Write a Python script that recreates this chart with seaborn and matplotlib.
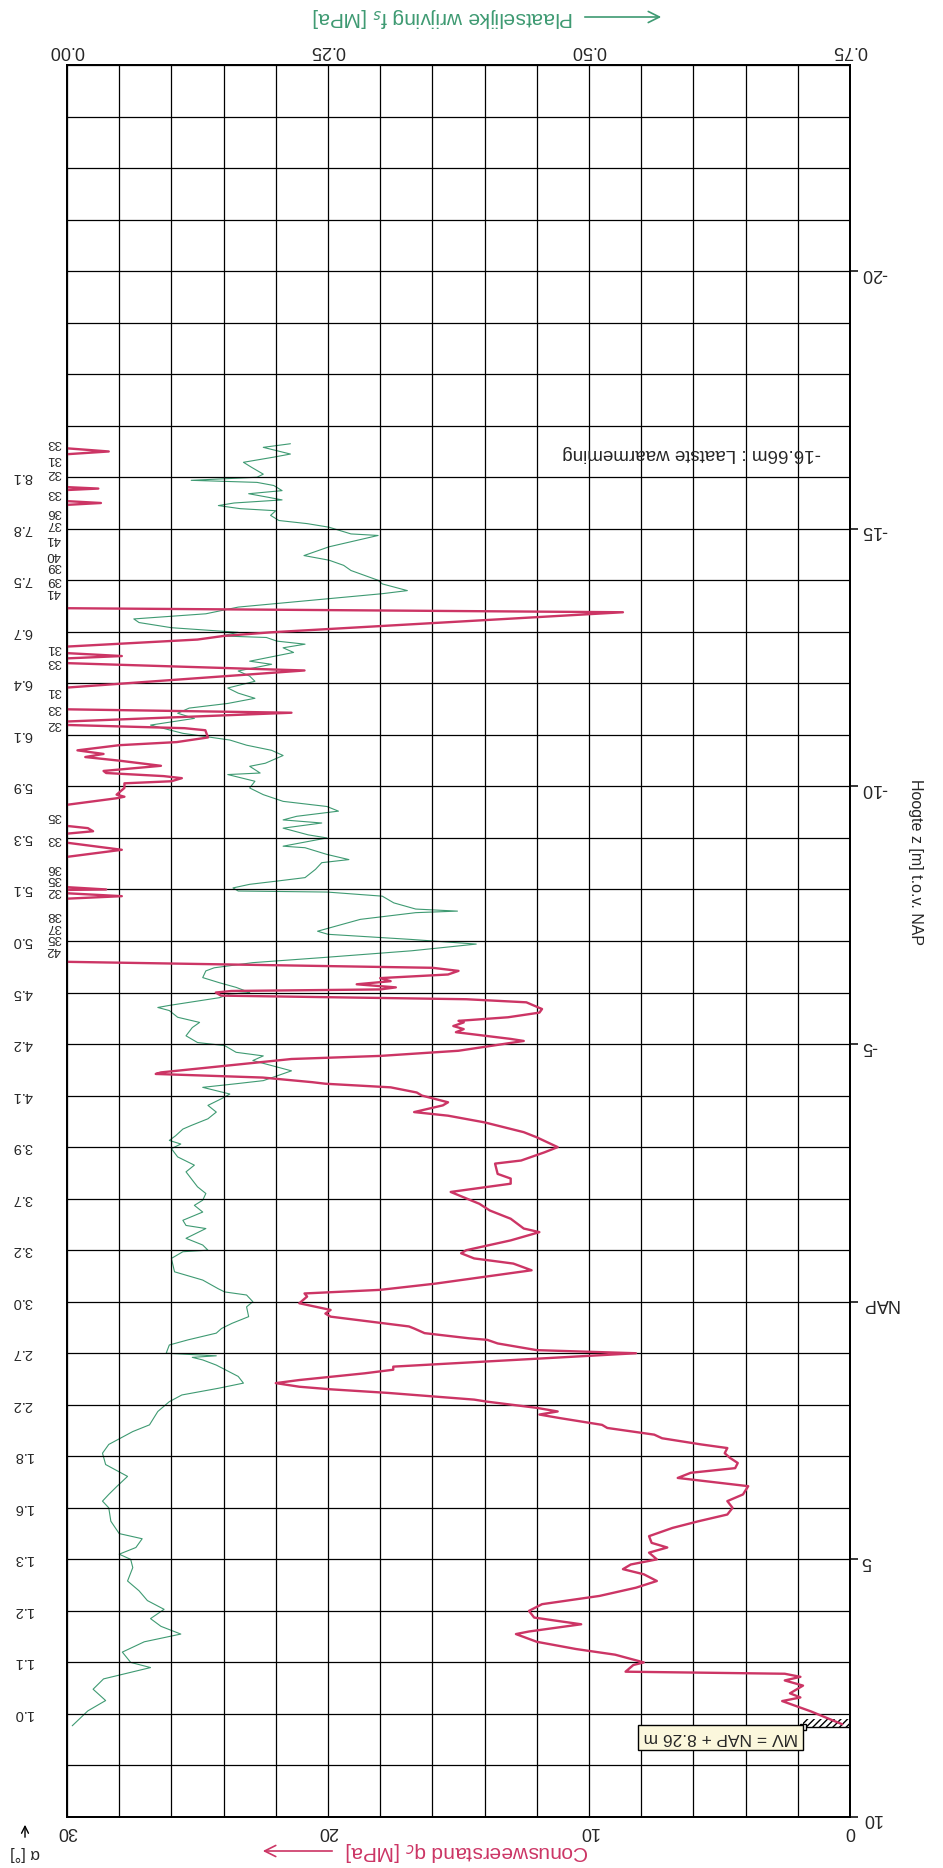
import matplotlib
matplotlib.use("Agg")
import matplotlib.pyplot as plt
import matplotlib.transforms as mtransforms
from matplotlib.patches import Rectangle, FancyArrowPatch
import seaborn as sns
import numpy as np
import pandas as pd

sns.set_style("white")
plt.rcParams["font.family"] = ["Liberation Sans", "DejaVu Sans"]

qc_z = [8.2, 7.95, 7.75, 7.68, 7.6, 7.45, 7.35, 7.28, 7.22, 7.18, 7.05, 7.0, 6.85, 6.74,
        6.6, 6.45, 6.4, 6.26, 6.13, 6.0, 5.87, 5.71, 5.55, 5.42, 5.29, 5.19, 5.1, 5.0, 4.87,
        4.77, 4.68, 4.55, 4.39, 4.26, 4.13, 4.0, 3.87, 3.74, 3.58,
        3.42, 3.32, 3.23, 3.13, 3.03, 2.94, 2.84, 2.77, 2.65, 2.58, 2.45, 2.39, 2.26, 2.19,
        2.13, 2.06, 1.94, 1.9, 1.77, 1.7, 1.65, 1.58, 1.52, 1.39, 1.32, 1.26, 1.1, 1.0, 0.94,
        0.81, 0.74, 0.71, 0.61, 0.52, 0.48, 0.29, 0.23, 0.16, 0.03,
        -0.1, -0.16, -0.23, -0.35, -0.61, -0.74, -0.84, -0.94, -1.0, -1.19, -1.35, -1.42,
        -1.61, -1.77, -1.9, -2.13, -2.29, -2.39, -2.48, -2.68, -2.74, -2.9, -3.0, -3.19, -3.29,
        -3.48, -3.61, -3.68, -3.81, -3.87, -4.0, -4.06, -4.16, -4.23, -4.26,
        -4.35, -4.42, -4.45, -4.71, -4.77, -4.87, -5.06, -5.1, -5.23, -5.29,
        -5.35, -5.42, -5.45, -5.52, -5.61, -5.68, -5.81, -5.87, -5.94, -6.0,
        -6.03, -6.06, -6.1, -6.16, -6.22, -6.28, -6.35, -6.42, -6.48, -6.6,
        -7.81, -7.87, -7.94, -8.0, -8.06, -8.6, -8.77, -8.94, -9.06, -9.13,
        -9.19, -9.26, -9.61, -9.77, -9.8, -9.84, -9.97, -10.06, -10.1, -10.16,
        -10.2, -10.26, -10.3, -10.4, -10.5, -10.57, -10.63, -10.7, -10.8, -10.86,
        -10.95, -11.09, -11.13, -11.25, -11.43, -11.5, -11.9, -12.25, -12.4, -12.53,
        -12.6, -12.7, -12.85, -12.92, -12.99, -13.38, -13.46,
        -15.45, -15.5, -15.55, -15.74, -15.78, -15.82, -16.43, -16.5, -16.58]
qc_val = [0.3, 1.5, 2.6, 1.9, 2.3, 1.8, 2.5, 1.9, 2.5, 8.6, 8.3, 7.9, 9.0, 10.5,
          12.0, 12.8, 12.3, 10.3, 12.1, 12.3, 11.8, 9.6, 8.2, 7.4, 7.9, 8.7, 8.4, 7.4, 7.7,
          7.0, 7.6, 7.7, 6.8, 5.8, 4.7, 4.5, 4.7, 4.1, 3.9,
          6.6, 6.1, 4.4, 4.3, 4.6, 4.8, 4.7, 5.7, 7.2, 7.5, 9.3, 9.5, 11.1, 11.9,
          11.2, 12.0, 13.9, 14.4, 17.7, 19.9, 21.1, 22.0, 21.1, 18.6, 17.5, 17.5, 11.8, 8.2, 12.0,
          13.5, 13.9, 14.6, 16.3, 16.7, 16.9, 19.9, 20.1, 19.9, 21.1,
          20.8, 20.9, 18.0, 15.9, 12.2, 12.9, 14.4, 14.9, 14.7, 13.0, 11.9, 12.5,
          13.0, 13.8, 14.2, 15.3, 13.0, 13.0, 13.5, 13.6, 12.6, 11.7, 11.2, 12.0, 12.5,
          14.0, 15.4, 16.7, 15.6, 15.4, 16.4, 16.6, 17.6, 20.1, 20.6,
          22.5, 26.6, 26.4, 21.4, 18.0, 15.0, 12.5, 13.0, 15.1, 14.8,
          15.2, 14.8, 15.0, 13.1, 11.9, 11.8, 12.4, 14.7, 24.1, 24.3,
          23.7, 18.0, 17.4, 18.9, 17.6, 18.0, 15.4, 15.0, 16.0, 30.5,
          30.5, 27.9, 30.5, 28.5, 30.5, 30.5, 27.9, 30.5, 30.5, 29.0,
          29.2, 30.5, 30.5, 28.1, 27.8, 28.1, 27.8, 27.8, 26.0, 25.6,
          26.3, 28.5, 28.6, 26.4, 28.0, 29.3, 28.6, 29.6, 28.0, 25.8,
          24.6, 24.7, 25.5, 30.5, 21.4, 30.5, 30.5, 20.9, 30.5, 27.9,
          30.5, 30.5, 25.0, 24.0, 22.2, 8.7, 30.5,
          30.5, 28.7, 30.5, 30.5, 28.8, 30.5, 30.5, 28.4, 30.5]

# qc peaks beyond the 30 MPa scale (written in the margin)
over_z = [-6.82, -7.06, -7.28, -7.5, -7.98, -8.2, -8.42, -8.97, -9.42, -11.22, -11.53,
          -11.86, -12.42, -12.68, -13.77, -14.0, -14.27, -14.5, -14.8, -15.09, -15.32,
          -15.7, -16.08, -16.36, -16.66]
over_qc = [42, 35, 37, 38, 32, 35, 36, 33, 35, 32, 33, 31, 33, 31, 41, 39, 39, 40, 41,
           37, 36, 33, 32, 31, 33]

# Sleeve friction fs [MPa]
fs_z = [8.23, 7.94, 7.74, 7.52, 7.32, 7.1, 7.0, 6.8,
        6.6, 6.45, 6.3, 6.15, 5.97, 5.8, 5.61, 5.42, 5.16, 5.0,
        4.9, 4.77, 4.6, 4.5, 4.26, 4.0, 3.87, 3.74, 3.58,
        3.39, 3.16, 2.94, 2.77, 2.52, 2.39, 2.13, 1.94, 1.81, 1.68,
        1.58, 1.45, 1.23, 1.13, 1.08, 1.05, 1.0, 0.84, 0.74, 0.61,
        0.52, 0.42, 0.29, 0.1,
        0.0, -0.13, -0.19, -0.25, -0.42, -0.58, -0.84, -0.97, -1.0, -1.1,
        -1.23, -1.42, -1.48, -1.58, -1.74, -1.87, -1.97, -2.1, -2.23, -2.39,
        -2.52, -2.65, -2.81, -2.97, -3.06, -3.13, -3.22, -3.35, -3.42,
        -3.55, -3.68, -3.81, -3.94, -4.03, -4.16, -4.23, -4.29, -4.48, -4.68,
        -4.77, -4.84, -4.97, -5.03, -5.16, -5.32, -5.42, -5.52, -5.65, -5.71,
        -5.75, -5.9, -5.97, -6.0, -6.1, -6.19, -6.29, -6.42, -6.48, -6.58,
        -6.68, -6.81, -6.94,
        -7.03, -7.13, -7.19, -7.42, -7.55, -7.58, -7.62, -7.74, -7.87, -7.95,
        -7.97, -8.03, -8.1, -8.16, -8.23, -8.39, -8.52, -8.58, -8.68, -8.81,
        -8.84, -9.0, -9.06, -9.19, -9.29, -9.35, -9.42, -9.52, -9.61, -9.71,
        -9.84, -9.97, -10.1, -10.23, -10.26, -10.39,
        -10.45, -10.6, -10.7, -10.8, -10.9, -11.03, -11.19, -11.32, -11.42, -11.52,
        -11.61, -11.71, -11.81, -11.91, -12.04, -12.14, -12.24, -12.37, -12.43, -12.6,
        -12.69, -12.76, -12.82, -12.89, -12.92, -12.99, -13.08, -13.18, -13.25, -13.35,
        -13.48, -13.64, -13.74, -13.8, -13.93,
        -14.0, -14.19, -14.29, -14.39, -14.45, -14.48, -14.65, -14.87, -14.9, -15.03,
        -15.1, -15.16, -15.26, -15.35, -15.39, -15.45, -15.5, -15.56, -15.61, -15.68,
        -15.74, -15.84, -15.9, -15.94, -16.0, -16.06, -16.19, -16.29, -16.39, -16.45,
        -16.52, -16.58, -16.65]
fs_val = [0.005, 0.02, 0.037, 0.025, 0.035, 0.08, 0.061, 0.053,
          0.074, 0.109, 0.09, 0.08, 0.093, 0.077, 0.069, 0.058, 0.063, 0.061,
          0.05, 0.066, 0.072, 0.05, 0.042, 0.04, 0.034, 0.04, 0.048,
          0.058, 0.037, 0.034, 0.04, 0.063, 0.079, 0.087, 0.098, 0.11, 0.145,
          0.169, 0.164, 0.143, 0.13, 0.12, 0.143, 0.095, 0.098, 0.116, 0.143,
          0.148, 0.158, 0.174, 0.172,
          0.178, 0.172, 0.151, 0.145, 0.13, 0.103, 0.1, 0.111, 0.135, 0.13,
          0.114, 0.133, 0.114, 0.111, 0.13, 0.122, 0.13, 0.133, 0.125, 0.119,
          0.114, 0.122, 0.106, 0.1, 0.109, 0.098, 0.104, 0.111, 0.119,
          0.135, 0.143, 0.135, 0.148, 0.156, 0.13, 0.162, 0.188, 0.215, 0.178,
          0.188, 0.162, 0.151, 0.125, 0.114, 0.12, 0.127, 0.106, 0.098, 0.087,
          0.098, 0.146, 0.156, 0.175, 0.162, 0.146, 0.13, 0.133, 0.141, 0.178,
          0.246, 0.33, 0.392,
          0.33, 0.25, 0.24, 0.281, 0.334, 0.374, 0.334, 0.313, 0.302, 0.249,
          0.164, 0.159, 0.175, 0.2, 0.228, 0.238, 0.244, 0.27, 0.249, 0.228,
          0.207, 0.249, 0.231, 0.207, 0.244, 0.207, 0.22, 0.26, 0.249, 0.207,
          0.188, 0.175, 0.18, 0.154, 0.185, 0.175,
          0.19, 0.207, 0.196, 0.172, 0.156, 0.111, 0.08, 0.122, 0.106, 0.117,
          0.154, 0.18, 0.164, 0.154, 0.18, 0.175, 0.164, 0.196, 0.175, 0.217,
          0.207, 0.228, 0.201, 0.191, 0.148, 0.164, 0.1, 0.069, 0.064, 0.133,
          0.164, 0.249, 0.302, 0.326, 0.302,
          0.298, 0.272, 0.265, 0.251, 0.235, 0.227, 0.251, 0.298, 0.272, 0.251,
          0.23, 0.203, 0.195, 0.2, 0.166, 0.145, 0.16, 0.206, 0.193, 0.174,
          0.206, 0.198, 0.182, 0.119, 0.182, 0.188, 0.177, 0.169, 0.198, 0.214,
          0.2, 0.188, 0.214]

# Inclination alpha [deg] at every whole metre
alpha_z = list(range(8, -17, -1))
alpha_val = [1.0, 1.1, 1.2, 1.3, 1.6, 1.8, 2.2, 2.7, 3.0, 3.2, 3.7, 3.9, 4.1, 4.2, 4.5,
             5.0, 5.1, 5.3, 5.9, 6.1, 6.4, 6.7, 7.5, 7.8, 8.1]

# Level axis
z_ticks = [10, 5, 0, -5, -10, -15, -20]
z_labels = ["10", "5", "NAP", "-5", "-10", "-15", "-20"]
mv_level = 8.26
last_level = -16.66

red = "#cc3565"
green = "#3e9a72"

qc_df = pd.concat([pd.DataFrame({"z": qc_z, "qc": qc_val}),
                   pd.DataFrame({"z": over_z, "qc": over_qc})])
qc_df = qc_df.sort_values("z", ascending=False).reset_index(drop=True)
fs_df = pd.DataFrame({"z": fs_z, "fs": fs_val})

fig = plt.figure(figsize=(9.43, 18.68), dpi=100)
ax = fig.add_axes([67 / 943, 51 / 1868, 783 / 943, 1752 / 1868])
ax2 = ax.twiny()

# friction on the twin axis, resistance on top of it
sns.lineplot(data=fs_df, x="fs", y="z", sort=False, estimator=None, orient="y",
             color=green, lw=0.8, ax=ax2)
sns.lineplot(data=qc_df, x="qc", y="z", sort=False, estimator=None, orient="y",
             color=red, lw=1.7, ax=ax)
ax.set_zorder(ax2.get_zorder() + 1)
ax.patch.set_visible(False)

ax.set_xlim(30, 0)
ax.set_ylim(10, -24)
ax2.set_xlim(0, 0.75)

# grid: 2 MPa columns, 1 m rows
ax.set_xticks(np.arange(0, 31, 2))
ax.set_xticklabels([str(v) if v % 10 == 0 else "" for v in range(0, 31, 2)])
ax.set_yticks(z_ticks)
ax.set_yticklabels(z_labels)
ax.set_yticks(np.arange(-24, 11, 1), minor=True)
ax.yaxis.tick_right()
ax.grid(True, which="both", color="black", lw=0.9)
ax.tick_params(axis="x", length=0, pad=4, labelsize=13, labelrotation=180)
ax.tick_params(axis="y", which="major", length=6, width=1.1, color="black", pad=2,
               labelsize=13, labelrotation=180)
ax.tick_params(axis="y", which="minor", length=0)
ax.set_xlabel("")
ax.set_ylabel("")

ax2.set_xticks([0, 0.25, 0.5, 0.75])
ax2.set_xticklabels(["0.00", "0.25", "0.50", "0.75"])
ax2.tick_params(axis="x", length=0, pad=4, labelsize=13, labelrotation=180)
ax2.grid(False)
ax2.set_xlabel("")
ax2.set_ylabel("")
for a in (ax, ax2):
    for s in a.spines.values():
        s.set_color("black")
        s.set_linewidth(1.3)

# margin columns: inclination and qc values beyond scale
trans = mtransforms.blended_transform_factory(ax.transAxes, ax.transData)
for z, a in zip(alpha_z, alpha_val):
    ax.text(-0.057, z, f"{a:.1f}", transform=trans, rotation=180, ha="center",
            va="center", fontsize=10.5, clip_on=False)
for z, q in zip(over_z, over_qc):
    ax.text(-0.017, z, str(q), transform=trans, rotation=180, ha="center",
            va="center", fontsize=9.5, clip_on=False)

# ground level and last reading
ax.add_patch(Rectangle((0, mv_level - 0.17), 1.8, 0.17, hatch="/////", fill=False,
                       ec="black", lw=0))
ax.plot([0, 1.8], [mv_level, mv_level], color="black", lw=1)
ax.plot(1.8, mv_level, marker="s", ms=4, mfc="white", mec="black", mew=1)
ax.text(4.95, mv_level + 0.2, f"MV = NAP + {mv_level:.2f} m", rotation=180, ha="center",
        va="center", fontsize=12.5,
        bbox=dict(boxstyle="square,pad=0.3", fc="#fbf7dc", ec="black", lw=1))
ax.text(1.1, last_level + 0.2, f"{last_level:.2f}m : Laatste waarmeming", rotation=180,
        ha="right", va="center", fontsize=13.5)

# axis titles (the sheet is upside down)
fig.text(443 / 943, 1 - 17 / 1868, "Plaatselijke wrijving f$_s$ [MPa]", rotation=180,
         ha="center", va="center", fontsize=15, color=green)
fig.text(467 / 943, 1 - 1851 / 1868, "Conusweerstand q$_c$ [MPa]", rotation=180,
         ha="center", va="center", fontsize=15, color=red)
fig.text(25 / 943, 1 - 1853 / 1868, "α [°]", rotation=180, ha="center", va="center",
         fontsize=12)
fig.text(915 / 943, 1 - 862 / 1868, "Hoogte z [m] t.o.v. NAP", rotation=270,
         ha="center", va="center", fontsize=11.5)
fig.add_artist(FancyArrowPatch(
    (582 / 943, 1 - 17 / 1868), (664 / 943, 1 - 17 / 1868), transform=fig.transFigure,
    arrowstyle="->,head_length=8,head_width=4", color=green, lw=1.2))
fig.add_artist(FancyArrowPatch(
    (335 / 943, 1 - 1851 / 1868), (260 / 943, 1 - 1851 / 1868), transform=fig.transFigure,
    arrowstyle="->,head_length=8,head_width=4", color=red, lw=1.2))
fig.add_artist(FancyArrowPatch(
    (25 / 943, 1 - 1840 / 1868), (25 / 943, 1 - 1822 / 1868), transform=fig.transFigure,
    arrowstyle="->,head_length=5,head_width=2.5", color="black", lw=1))

fig.savefig("out.png", dpi=100, facecolor="white")
